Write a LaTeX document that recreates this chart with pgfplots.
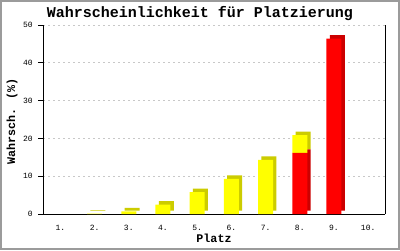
\documentclass[border=0pt]{standalone}
\usepackage{fontspec}
\setmainfont{Liberation Mono}
\usepackage{pgfplots}
\pgfplotsset{compat=1.18}
\definecolor{ylw}{RGB}{255,255,0}
\definecolor{dylw}{RGB}{204,204,0}
\definecolor{rd}{RGB}{255,0,0}
\definecolor{drd}{RGB}{204,0,0}
\definecolor{frame}{RGB}{155,155,155}
\definecolor{gridc}{RGB}{200,200,200}
\pgfplotstableread{
x red yellow
1 0 0
2 0 0.1
3 0 0.7
4 0 2.5
5 0 5.8
6 0 9.3
7 0 14.3
8 16.2 4.7
9 46.4 0
10 0 0
}\data
\begin{document}
\begin{tikzpicture}[x=1pt,y=1pt]
\useasboundingbox (0,0) rectangle (400,250);
\fill[white] (0,0) rectangle (400,250);
\draw[frame, line width=2pt] (1,1) rectangle (399,249);
% shadow layer with grid
\begin{axis}[at={(43.3pt,36pt)}, anchor=south west, scale only axis,
  width=342pt, height=189pt, xmin=0.5, xmax=10.5, ymin=0, ymax=50,
  ybar stacked, bar width=15pt,
  axis line style={draw=none}, major tick length=0pt,
  ytick={10,20,30,40,50}, xtick=\empty, yticklabels=\empty,
  ymajorgrids, major grid style={gridc, dash pattern=on 2pt off 3pt, line width=0.7pt},
  clip=false]
\addplot[fill=drd, draw=none, xshift=3.3pt, yshift=3.5pt] table[x=x,y=red]{\data};
\addplot[fill=dylw, draw=none, xshift=3.3pt, yshift=3.5pt] table[x=x,y=yellow]{\data};
\end{axis}
% front layer
\begin{axis}[at={(43.3pt,36pt)}, anchor=south west, scale only axis,
  width=342pt, height=189pt, xmin=0.5, xmax=10.5, ymin=0, ymax=50,
  ybar stacked, bar width=15pt,
  axis x line*=bottom, axis y line*=left, axis line style={-, black, line width=1pt},
  ytick={0,10,20,30,40,50}, xtick={1,...,10},
  xticklabels={1.,2.,3.,4.,5.,6.,7.,8.,9.,10.},
  /pgf/number format/assume math mode=true,
  ticklabel style={font=\fontsize{8}{8}\selectfont},
  tick align=outside, major tick length=5pt, tick style={black, line width=1pt},
  xtick style={draw=none},
  yticklabel style={xshift=-2pt},
  xticklabel style={yshift=-3pt},
  clip=false]
\addplot[fill=rd, draw=none] table[x=x,y=red]{\data};
\addplot[fill=ylw, draw=none] table[x=x,y=yellow]{\data};
\draw[black, line width=1pt] (rel axis cs:1,0) -- (rel axis cs:1,1);
\end{axis}
\node[anchor=base, font=\fontsize{15}{15}\selectfont\bfseries] at (200,232.5) {Wahrscheinlichkeit für Platzierung};
\node[anchor=base, font=\fontsize{11.7}{12}\selectfont\bfseries] at (214,8) {Platz};
\node[rotate=90, font=\fontsize{11.7}{12}\selectfont\bfseries] at (12,128.5) {Wahrsch. (\%)};
\end{tikzpicture}
\end{document}
